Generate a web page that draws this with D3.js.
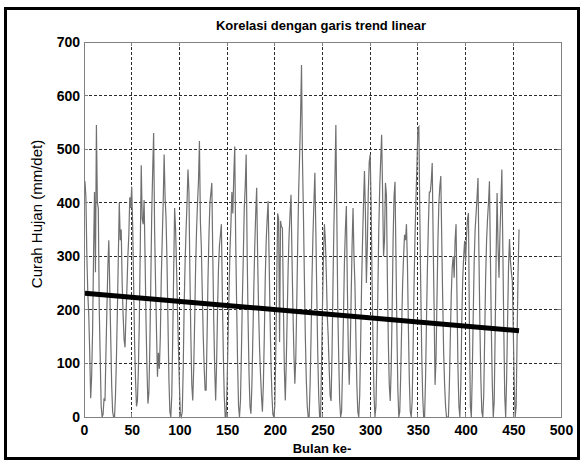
<!DOCTYPE html>
<html>
<head>
<meta charset="utf-8">
<script src="https://cdn.jsdelivr.net/npm/d3@7"></script>
<style>
  body { margin: 0; background: #fff; }
  svg { display: block; }
</style>
</head>
<body>
<svg id="chart" width="586" height="464"></svg>
<script>
'use strict';

// curah hujan bulanan (mm/det), bulan ke-1 .. ke-456
const curahHujan = [
  440, 410, 300, 230, 190, 120, 35, 75, 160, 300, 420, 270,
  545, 400, 390, 200, 110, 20, 0, 5, 35, 30, 120, 200,
  280, 330, 240, 150, 60, 10, 0, 0, 40, 110, 200, 300,
  400, 330, 350, 250, 190, 145, 130, 190, 240, 300, 340, 410,
  390, 430, 360, 250, 140, 70, 20, 30, 90, 180, 320, 470,
  370, 360, 405, 300, 180, 90, 25, 45, 130, 250, 380, 460,
  530, 350, 250, 160, 75, 120, 90, 150, 260, 330, 400, 490,
  410, 370, 290, 180, 70, 10, 0, 40, 150, 270, 390, 350,
  280, 200, 130, 60, 5, 0, 10, 90, 210, 290, 350, 400,
  462, 421, 267, 150, 60, 31, 90, 180, 280, 350, 400, 440,
  515, 366, 316, 230, 150, 90, 50, 50, 150, 260, 340, 400,
  418, 437, 300, 180, 90, 31, 100, 200, 280, 320, 340, 360,
  230, 120, 40, 0, 0, 60, 150, 230, 310, 360, 420, 380,
  450, 505, 330, 210, 100, 20, 0, 30, 120, 220, 300, 390,
  430, 490, 310, 180, 80, 20, 6, 60, 150, 240, 320, 380,
  428, 300, 200, 130, 80, 40, 10, 60, 150, 260, 330, 370,
  403, 300, 190, 100, 40, 5, 0, 20, 120, 250, 380, 370,
  140, 366, 355, 353, 210, 90, 31, 100, 190, 280, 340, 380,
  415, 300, 200, 120, 62, 110, 210, 320, 420, 487, 560, 657,
  480, 380, 260, 150, 70, 20, 0, 0, 60, 150, 260, 340,
  400, 456, 350, 230, 120, 40, 0, 0, 100, 210, 300, 360,
  330, 267, 190, 150, 90, 40, 30, 120, 250, 360, 440, 545,
  380, 205, 110, 30, 0, 10, 90, 190, 290, 350, 394, 250,
  130, 60, 120, 220, 320, 390, 300, 248, 150, 60, 10, 0,
  40, 140, 250, 330, 400, 459, 380, 250, 320, 420, 476, 490,
  390, 250, 130, 40, 0, 20, 110, 230, 350, 430, 480, 527,
  420, 300, 330, 437, 415, 260, 140, 60, 30, 90, 200, 330,
  412, 439, 300, 160, 50, 0, 10, 80, 170, 250, 300, 340,
  330, 360, 290, 170, 70, 10, 0, 30, 130, 250, 340, 410,
  470, 539, 542, 380, 240, 120, 40, 0, 0, 70, 180, 280,
  360, 420, 420, 440, 474, 330, 200, 60, 110, 220, 330, 400,
  430, 450, 330, 220, 120, 60, 20, 0, 0, 0, 60, 150,
  230, 280, 300, 260, 330, 360, 220, 90, 20, 0, 60, 180,
  260, 300, 329, 290, 340, 370, 381, 170, 20, 0, 80, 190,
  290, 350, 380, 410, 446, 300, 170, 70, 10, 0, 40, 150,
  260, 330, 370, 400, 440, 300, 160, 60, 0, 30, 160, 300,
  418, 320, 260, 340, 400, 462, 320, 170, 40, 0, 70, 180,
  280, 332, 291, 270, 254, 160, 60, 0, 20, 150, 270, 350
];

// garis trend linear (ujung awal dan akhir)
const trendBulan = [1, 456];
const trendNilai = [231, 161];

const xTicks = [0, 50, 100, 150, 200, 250, 300, 350, 400, 450, 500];
const yTicks = [0, 100, 200, 300, 400, 500, 600, 700];

const judul = 'Korelasi dengan garis trend linear';
const labelX = 'Bulan ke-';
const labelY = 'Curah Hujan (mm/det)';

const svg = d3.select('#chart');
const plot = { left: 84, right: 561, top: 42, bottom: 417 };

const x = d3.scaleLinear().domain([0, 500]).range([plot.left, plot.right]);
const y = d3.scaleLinear().domain([0, 700]).range([plot.bottom, plot.top]);

// frame around the whole figure
svg.append('rect')
  .attr('x', 5.5).attr('y', 8.5)
  .attr('width', 573).attr('height', 450)
  .attr('fill', '#fff')
  .attr('stroke', '#000')
  .attr('stroke-width', 3);

// grid
const grid = svg.append('g').attr('class', 'grid');
grid.selectAll('line.gx')
  .data(xTicks.slice(1, -1))
  .enter()
  .append('line')
  .attr('class', 'gx')
  .attr('x1', d => x(d)).attr('x2', d => x(d))
  .attr('y1', plot.top).attr('y2', plot.bottom);
grid.selectAll('line.gy')
  .data(yTicks.slice(1, -1))
  .enter()
  .append('line')
  .attr('class', 'gy')
  .attr('y1', d => y(d)).attr('y2', d => y(d))
  .attr('x1', plot.left).attr('x2', plot.right);
grid.selectAll('line')
  .attr('stroke', '#2a2a2a')
  .attr('stroke-width', 1)
  .attr('stroke-dasharray', '3,2')
  .attr('shape-rendering', 'crispEdges');

// data series
const line = d3.line()
  .x((d, i) => x(i + 1))
  .y(d => y(d));

svg.append('path')
  .datum(curahHujan)
  .attr('d', line)
  .attr('fill', 'none')
  .attr('stroke', '#707070')
  .attr('stroke-width', 1.2)
  .attr('stroke-linejoin', 'miter');

// trend line
svg.append('path')
  .datum(trendBulan.map((b, i) => [b, trendNilai[i]]))
  .attr('d', d3.line().x(d => x(d[0])).y(d => y(d[1])))
  .attr('fill', 'none')
  .attr('stroke', '#000')
  .attr('stroke-width', 5);

// axis box
svg.append('rect')
  .attr('x', plot.left).attr('y', plot.top)
  .attr('width', plot.right - plot.left)
  .attr('height', plot.bottom - plot.top)
  .attr('fill', 'none')
  .attr('stroke', '#808080')
  .attr('stroke-width', 1)
  .attr('shape-rendering', 'crispEdges');

// inward ticks on all four sides
const ticks = svg.append('g')
  .attr('stroke', '#808080')
  .attr('shape-rendering', 'crispEdges');
xTicks.forEach(function(t) {
  ticks.append('line').attr('x1', x(t)).attr('x2', x(t))
    .attr('y1', plot.bottom).attr('y2', plot.bottom - 4);
  ticks.append('line').attr('x1', x(t)).attr('x2', x(t))
    .attr('y1', plot.top).attr('y2', plot.top + 4);
});
yTicks.forEach(function(t) {
  ticks.append('line').attr('y1', y(t)).attr('y2', y(t))
    .attr('x1', plot.left).attr('x2', plot.left + 4);
  ticks.append('line').attr('y1', y(t)).attr('y2', y(t))
    .attr('x1', plot.right).attr('x2', plot.right - 4);
});

// axes (labels only)
const font = '"Liberation Sans", Arial, sans-serif';

const gx = svg.append('g')
  .attr('transform', 'translate(0,' + plot.bottom + ')')
  .call(d3.axisBottom(x).tickValues(xTicks).tickSize(0).tickPadding(8));
const gy = svg.append('g')
  .attr('transform', 'translate(' + plot.left + ',0)')
  .call(d3.axisLeft(y).tickValues(yTicks).tickSize(0).tickPadding(4));

[gx, gy].forEach(function(g) {
  g.select('.domain').remove();
  g.selectAll('text')
    .attr('fill', '#000')
    .style('font-family', font)
    .style('font-size', '14px')
    .style('font-weight', 'bold');
});

// title and axis labels
svg.append('text')
  .attr('x', 321).attr('y', 30)
  .attr('text-anchor', 'middle')
  .style('font-family', font)
  .style('font-size', '13px')
  .style('font-weight', 'bold')
  .attr('fill', '#000')
  .text(judul);

svg.append('text')
  .attr('x', 322).attr('y', 453)
  .attr('text-anchor', 'middle')
  .style('font-family', font)
  .style('font-size', '13px')
  .style('font-weight', 'bold')
  .attr('fill', '#000')
  .text(labelX);

svg.append('text')
  .attr('transform', 'translate(42,214) rotate(-90)')
  .attr('text-anchor', 'middle')
  .style('font-family', font)
  .style('font-size', '15px')
  .attr('fill', '#000')
  .text(labelY);
</script>
</body>
</html>
